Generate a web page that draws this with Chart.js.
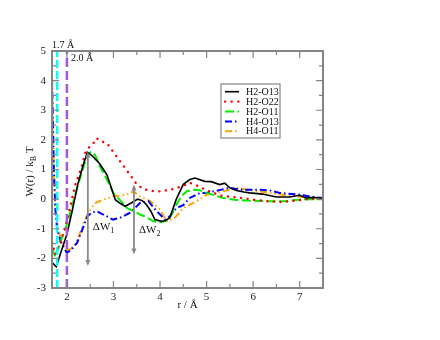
<!DOCTYPE html>
<html>
<head>
<meta charset="utf-8">
<script src="https://cdn.jsdelivr.net/npm/chart.js@4"></script>
<style>
  body { margin: 0; background: #fff; }
  canvas { display: block; }
</style>
</head>
<body>
<canvas id="chart" width="440" height="340"></canvas>
<script>
// W(r) curves (r in Å, W in kBT)
var seriesNames = ['H2-O13', 'H2-O22', 'H2-O11', 'H4-O13', 'H4-O11'];

var rH2O13 = [1.68, 1.72, 1.77, 1.88, 2.0, 2.12, 2.24, 2.35, 2.44, 2.55, 2.7, 2.86, 3.04, 3.15, 3.25, 3.39, 3.52, 3.62, 3.71, 3.8, 3.89, 4.03, 4.12, 4.21, 4.35, 4.5, 4.64, 4.75, 4.96, 5.1, 5.28, 5.39, 5.5, 5.64, 5.8, 5.93, 6.2, 6.5, 6.78, 7.0, 7.14, 7.3, 7.5];
var wH2O13 = [-2.14, -2.2, -2.28, -1.75, -1.19, -0.35, 0.54, 1.15, 1.58, 1.45, 1.2, 0.82, -0.02, -0.15, -0.24, -0.12, 0.0, -0.05, -0.19, -0.4, -0.69, -0.75, -0.72, -0.63, 0.0, 0.5, 0.66, 0.71, 0.6, 0.59, 0.49, 0.54, 0.38, 0.29, 0.24, 0.21, 0.17, 0.07, 0.07, 0.13, 0.04, 0.06, 0.02];

var rH2O22 = [1.68, 1.75, 1.85, 1.97, 2.08, 2.18, 2.32, 2.39, 2.46, 2.57, 2.64, 2.71, 2.86, 3.04, 3.25, 3.38, 3.5, 3.64, 3.8, 4.0, 4.15, 4.28, 4.4, 4.5, 4.64, 4.8, 5.0, 5.3, 5.5, 5.7, 6.0, 6.3, 6.6, 6.9, 7.2, 7.5];
var wH2O22 = [-1.46, -1.87, -1.5, -0.91, -0.2, 0.49, 1.1, 1.55, 1.72, 1.89, 2.06, 1.96, 1.89, 1.5, 1.05, 0.77, 0.5, 0.34, 0.28, 0.26, 0.3, 0.34, 0.4, 0.45, 0.55, 0.45, 0.3, 0.12, 0.08, 0.05, -0.02, -0.07, -0.1, -0.05, 0.0, 0.02];

var rH2O11 = [1.68, 1.75, 1.85, 2.0, 2.1, 2.22, 2.36, 2.46, 2.54, 2.62, 2.71, 2.8, 2.93, 3.0, 3.15, 3.29, 3.45, 3.57, 3.72, 3.86, 4.0, 4.1, 4.21, 4.33, 4.46, 4.57, 4.71, 4.85, 5.0, 5.36, 5.6, 5.86, 6.29, 6.71, 7.07, 7.5];
var wH2O11 = [-1.65, -1.95, -1.5, -0.85, -0.3, 0.38, 1.1, 1.55, 1.6, 1.45, 1.1, 0.85, 0.43, 0.2, -0.05, -0.3, -0.42, -0.52, -0.62, -0.75, -0.78, -0.75, -0.63, -0.25, 0.1, 0.26, 0.32, 0.3, 0.21, 0.04, -0.02, -0.05, -0.07, -0.07, 0.0, 0.0];

var rH4O13 = [1.68, 1.7, 1.72, 1.75, 1.79, 1.89, 2.0, 2.1, 2.22, 2.36, 2.44, 2.54, 2.64, 2.78, 2.99, 3.14, 3.36, 3.57, 3.75, 3.93, 4.11, 4.21, 4.35, 4.5, 4.64, 4.86, 5.0, 5.32, 5.5, 5.71, 6.07, 6.36, 6.57, 7.0, 7.28, 7.5];
var wH4O13 = [4.1, 2.6, 1.0, -0.3, -1.03, -1.53, -1.81, -1.7, -1.47, -0.91, -0.58, -0.45, -0.41, -0.52, -0.69, -0.63, -0.46, -0.13, -0.07, -0.41, -0.69, -0.58, -0.3, -0.2, 0.04, 0.21, 0.21, 0.32, 0.38, 0.32, 0.32, 0.29, 0.21, 0.15, 0.07, 0.04];

var rH4O11 = [1.68, 1.7, 1.72, 1.75, 1.82, 1.89, 2.0, 2.07, 2.22, 2.36, 2.46, 2.61, 2.78, 2.99, 3.29, 3.43, 3.57, 3.79, 4.0, 4.14, 4.32, 4.5, 4.71, 4.86, 5.0, 5.21, 5.5, 5.68, 5.86, 6.14, 6.36, 6.71, 6.93, 7.2, 7.5];
var wH4O11 = [4.0, 2.5, 1.0, -0.24, -1.03, -1.47, -1.72, -1.7, -1.42, -0.8, -0.46, -0.13, -0.02, 0.09, 0.15, 0.26, 0.09, -0.07, -0.35, -0.75, -0.63, -0.3, -0.13, 0.0, 0.15, 0.21, 0.32, 0.38, 0.32, 0.26, 0.21, 0.13, 0.09, 0.05, 0.02];

// vertical marker lines (1.7 Å and 2.0 Å)
var markerR = [1.79, 2.0];
var markerLabels = ['1.7 Å', '2.0 Å'];

// double arrows ΔW1, ΔW2
var arrowR = [2.45, 3.44];
var arrowTop = [1.6, 0.49];
var arrowBottom = [-2.26, -1.87];

var xTicks = [2, 3, 4, 5, 6, 7];
var xMin = 1.68, xMax = 7.5, yMin = -3, yMax = 5;

function pts(r, w) {
    return r.map(function (v, i) { return { x: v, y: w[i] }; });
}

var styles = [
    { color: '#000000', dash: [], width: 1.6, cap: 'butt' },
    { color: '#ff0000', dash: [0.1, 6.5], width: 2.4, cap: 'round' },
    { color: '#00ee00', dash: [9, 3.5], width: 2, cap: 'butt' },
    { color: '#0000ff', dash: [7, 3, 1.5, 3], width: 2, cap: 'butt' },
    { color: '#ffa500', dash: [7, 3, 1.5, 3, 1.5, 3], width: 2, cap: 'butt' }
];
var seriesR = [rH2O13, rH2O22, rH2O11, rH4O13, rH4O11];
var seriesW = [wH2O13, wH2O22, wH2O11, wH4O13, wH4O11];

var datasets = [
    { label: 'marker1', data: pts([markerR[0], markerR[0]], [yMin, yMax]), borderColor: '#00ffff', borderDash: [8, 3], borderWidth: 2.5, legend: false },
    { label: 'marker2', data: pts([markerR[1], markerR[1]], [yMin, yMax]), borderColor: '#a855e0', borderDash: [9, 4], borderWidth: 2.5, legend: false }
];
seriesNames.forEach(function (name, i) {
    datasets.push({
        label: name,
        data: pts(seriesR[i], seriesW[i]),
        borderColor: styles[i].color,
        borderDash: styles[i].dash,
        borderWidth: styles[i].width,
        borderCapStyle: styles[i].cap,
        legend: true
    });
});
datasets.forEach(function (d) {
    d.showLine = true;
    d.pointRadius = 0;
    d.tension = 0;
    d.fill = false;
});

var frameColor = '#858585';
var textFont = '"Liberation Serif", "DejaVu Serif", serif';

// frame, inward ticks, annotations, legend
var decor = {
    id: 'decor',
    afterDatasetsDraw: function (chart) {
        var ctx = chart.ctx;
        var a = chart.chartArea;
        var xs = chart.scales.x, ys = chart.scales.y;
        ctx.save();

        // arrows
        ctx.strokeStyle = '#8a8a8a';
        ctx.fillStyle = '#8a8a8a';
        ctx.lineWidth = 1.8;
        arrowR.forEach(function (r, i) {
            var px = xs.getPixelForValue(r);
            var t = ys.getPixelForValue(arrowTop[i]);
            var b = ys.getPixelForValue(arrowBottom[i]);
            ctx.beginPath();
            ctx.moveTo(px, t + 3);
            ctx.lineTo(px, b - 3);
            ctx.stroke();
            ctx.beginPath();
            ctx.moveTo(px, t); ctx.lineTo(px - 2.5, t + 6); ctx.lineTo(px + 2.5, t + 6); ctx.closePath();
            ctx.fill();
            ctx.beginPath();
            ctx.moveTo(px, b); ctx.lineTo(px - 2.5, b - 6); ctx.lineTo(px + 2.5, b - 6); ctx.closePath();
            ctx.fill();
        });

        // frame
        ctx.strokeStyle = frameColor;
        ctx.lineWidth = 2;
        ctx.strokeRect(a.left, a.top, a.right - a.left, a.bottom - a.top);

        // ticks
        ctx.lineWidth = 1.2;
        ctx.beginPath();
        for (var v = 2; v <= 7.5; v += 0.5) {
            var px = xs.getPixelForValue(v);
            var len = (v % 1 === 0) ? 7 : 4;
            ctx.moveTo(px, a.bottom); ctx.lineTo(px, a.bottom - len);
            ctx.moveTo(px, a.top); ctx.lineTo(px, a.top + len);
        }
        for (var w = yMin + 0.5; w < yMax; w += 0.5) {
            var py = ys.getPixelForValue(w);
            var l2 = (w % 1 === 0) ? 7 : 4;
            ctx.moveTo(a.left, py); ctx.lineTo(a.left + l2, py);
            ctx.moveTo(a.right, py); ctx.lineTo(a.right - l2, py);
        }
        ctx.stroke();

        // annotation text
        ctx.fillStyle = '#111';
        ctx.textBaseline = 'middle';
        ctx.textAlign = 'left';
        ctx.font = '10px ' + textFont;
        ctx.fillText(markerLabels[0], a.left, a.top - 6);
        ctx.fillText(markerLabels[1], xs.getPixelForValue(markerR[1]) + 4, a.top + 7);

        ctx.font = '11px ' + textFont;
        var dwY = [-0.95, -1.03];
        arrowR.forEach(function (r, i) {
            var px = xs.getPixelForValue(r) + 5;
            var py = ys.getPixelForValue(dwY[i]);
            ctx.font = '11px ' + textFont;
            ctx.fillText('ΔW', px, py);
            var wdt = ctx.measureText('ΔW').width;
            ctx.font = '8px ' + textFont;
            ctx.fillText(String(i + 1), px + wdt, py + 4);
        });

        // y axis title: W(r) / k_B T
        ctx.save();
        ctx.translate(30, (a.top + a.bottom) / 2 + 2);
        ctx.rotate(-Math.PI / 2);
        ctx.textAlign = 'left';
        ctx.font = '11px ' + textFont;
        var p1 = 'W(r) / k';
        var w1 = ctx.measureText(p1).width;
        ctx.font = '8px ' + textFont;
        var w2 = ctx.measureText('B').width;
        ctx.font = '11px ' + textFont;
        var w3 = ctx.measureText(' T').width;
        var x0 = -(w1 + w2 + w3) / 2;
        ctx.fillText(p1, x0, 0);
        ctx.font = '8px ' + textFont;
        ctx.fillText('B', x0 + w1, 4);
        ctx.font = '11px ' + textFont;
        ctx.fillText(' T', x0 + w1 + w2, 0);
        ctx.restore();

        // legend box
        var lx = 221, ly = 84, lw = 59, lh = 54;
        ctx.fillStyle = '#fff';
        ctx.fillRect(lx, ly, lw, lh);
        ctx.strokeStyle = '#888';
        ctx.lineWidth = 1.2;
        ctx.strokeRect(lx, ly, lw, lh);
        ctx.font = '10px ' + textFont;
        chart.data.datasets.filter(function (d) { return d.legend; }).forEach(function (d, i) {
            var yy = ly + 7.7 + i * 9.9;
            ctx.strokeStyle = d.borderColor;
            ctx.lineWidth = d.borderWidth;
            ctx.lineCap = d.borderCapStyle || 'butt';
            ctx.setLineDash(d.borderDash);
            ctx.beginPath();
            ctx.moveTo(lx + 4, yy);
            ctx.lineTo(lx + 18, yy);
            ctx.stroke();
            ctx.setLineDash([]);
            ctx.lineCap = 'butt';
            ctx.fillStyle = '#111';
            ctx.fillText(d.label, lx + 25, yy + 0.5);
        });

        ctx.restore();
    }
};

var mychart = document.getElementById('chart').getContext('2d');
var newChart = new Chart(mychart, {
    type: 'scatter',
    data: { datasets: datasets },
    plugins: [decor],
    options: {
        responsive: false,
        animation: false,
        layout: { padding: { left: 0, right: 117, top: 51, bottom: 24 } },
        plugins: { legend: { display: false }, tooltip: { enabled: false } },
        scales: {
            x: {
                type: 'linear',
                min: xMin,
                max: xMax,
                afterBuildTicks: function (scale) {
                    scale.ticks = xTicks.map(function (v) { return { value: v }; });
                },
                afterFit: function (scale) { scale.height = 28; },
                grid: { display: false, drawTicks: false },
                border: { display: false },
                ticks: { color: '#222', padding: 3, font: { family: textFont, size: 11 }, maxRotation: 0 },
                title: { display: true, text: 'r / Å', color: '#111', font: { family: textFont, size: 11 }, padding: { top: 0, bottom: 4 } }
            },
            y: {
                type: 'linear',
                min: yMin,
                max: yMax,
                afterFit: function (scale) { scale.width = 52; },
                grid: { display: false, drawTicks: false },
                border: { display: false },
                ticks: { stepSize: 1, color: '#222', padding: 6, font: { family: textFont, size: 11 } }
            }
        }
    }
});
</script>
</body>
</html>
